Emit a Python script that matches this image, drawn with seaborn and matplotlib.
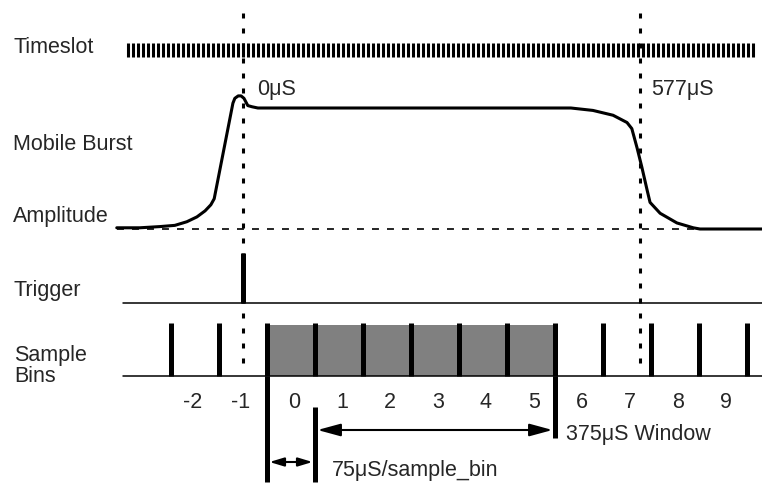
import numpy as np
import matplotlib.pyplot as plt
import seaborn as sns

# x is measured in sample bins: edge k sits between bin k-1 and bin k
bin_labels = [-2, -1, 0, 1, 2, 3, 4, 5, 6, 7, 8, 9]
bin_edges = list(range(-2, 11))
window_start, window_end = 0, 6      # the shaded 375uS window
sample_edge = 1                      # 75uS/sample_bin marker
trigger_pos = -0.5
slot_start = -0.5                    # 0uS
slot_end = 7.77                      # 577uS

# mobile burst envelope, amplitude 0 = floor, 1 = flat top
burst_x = [-3.13, -2.65, -2.23, -1.92, -1.67, -1.46, -1.29, -1.17, -1.10,
           -0.71, -0.67, -0.60, -0.54, -0.48, -0.44, -0.40, -0.31, -0.19,
           6.33, 6.79, 7.21, 7.50, 7.60, 7.71, 7.81, 7.92, 7.98, 8.19,
           8.54, 8.88, 9.02, 10.31]
burst_amp = [0.01, 0.01, 0.02, 0.03, 0.06, 0.10, 0.15, 0.20, 0.25,
             1.04, 1.08, 1.10, 1.10, 1.08, 1.05, 1.02, 1.01, 1.0,
             1.0, 0.98, 0.94, 0.88, 0.83, 0.67, 0.51, 0.32, 0.22, 0.13,
             0.05, 0.01, 0.0, 0.0]

row_labels = ["Timeslot", "Mobile Burst", "Amplitude", "Trigger", "Sample", "Bins"]

# layout (pixels from top of the 762x483 canvas)
PX0, PXW = 267, 48
def ux(px):
    return (px - PX0) / PXW

BURST_FLOOR, BURST_TOP = 229, 108
TRIG_LINE, TRIG_TOP = 303, 253
BIN_LINE, BIN_TOP = 376, 323

sns.set_style("white")
plt.rcParams["font.family"] = ["Liberation Sans", "DejaVu Sans"]
plt.rcParams["lines.scale_dashes"] = False

fig = plt.figure(figsize=(7.62, 4.83), dpi=100)
ax = fig.add_axes([0, 0, 1, 1])
ax.set_xlim(ux(0), ux(762))
ax.set_ylim(483, 0)
ax.axis("off")

FS = 15.5

# timeslot comb
comb = ux(128) + np.arange(126) * 5 / PXW
ax.vlines(comb, 43, 57, color="black", lw=2.2)

# burst envelope
burst_y = BURST_FLOOR - np.array(burst_amp) * (BURST_FLOOR - BURST_TOP)
ax.plot([burst_x[0], ux(700)], [BURST_FLOOR, BURST_FLOOR], color="black",
        lw=1.2, ls=(0, (5.0, 5.8)))
sns.lineplot(x=burst_x, y=burst_y, sort=False, color="black", lw=2.2, ax=ax)

# dotted time markers
for xm in (slot_start, slot_end):
    ax.plot([xm, xm], [13, 373], color="black", lw=2.2, ls=(0, (3.6, 7.2)))

# trigger row
ax.plot([ux(123), ux(762)], [TRIG_LINE, TRIG_LINE], color="black", lw=1.1)
ax.vlines(trigger_pos, TRIG_TOP, TRIG_LINE, color="black", lw=3.6)

# sample bins row
ax.fill_between([window_start, window_end], BIN_TOP + 2, BIN_LINE,
                color="#808080", lw=0)
ax.plot([ux(123), ux(762)], [BIN_LINE, BIN_LINE], color="black", lw=1.1)
ax.vlines(bin_edges, BIN_TOP, BIN_LINE, color="black", lw=3.6)
ax.vlines(window_start, BIN_LINE, 482, color="black", lw=3.6)
ax.vlines(sample_edge, 407, 482, color="black", lw=3.6)
ax.vlines(window_end, BIN_LINE, 438, color="black", lw=3.6)

for n in bin_labels:
    off = 3 if n >= 0 else -2
    ax.text(n + 0.5 + off / PXW, 408, str(n), ha="center", va="baseline",
            fontsize=FS)

# dimension arrows
ax.annotate("", xy=(window_end - 2.5 / PXW, 430), xytext=(sample_edge + 2.5 / PXW, 430),
            arrowprops=dict(arrowstyle="<|-|>,head_length=14,head_width=3.8",
                            mutation_scale=1, color="black", lw=1.5,
                            shrinkA=0, shrinkB=0))
ax.annotate("", xy=(sample_edge - 2.5 / PXW, 462), xytext=(window_start + 2.5 / PXW, 462),
            arrowprops=dict(arrowstyle="<|-|>,head_length=8.6,head_width=2.6",
                            mutation_scale=1, color="black", lw=1.5,
                            shrinkA=0, shrinkB=0))

# text
label_y = [53, 150, 222, 296, 361, 382]
label_x = [13, 13, 13, 13, 14, 14]
for t, xx, yy in zip(row_labels, label_x, label_y):
    ax.text(ux(xx), yy, t, ha="left", va="baseline", fontsize=FS)

ax.text(ux(257), 95, "0μS", ha="left", va="baseline", fontsize=FS)
ax.text(ux(651), 95, "577μS", ha="left", va="baseline", fontsize=FS)
ax.text(ux(566), 440, "375μS Window", ha="left", va="baseline", fontsize=FS)
ax.text(ux(332), 476, "75μS/sample_bin", ha="left", va="baseline", fontsize=FS)

fig.savefig("out.png", dpi=100)
